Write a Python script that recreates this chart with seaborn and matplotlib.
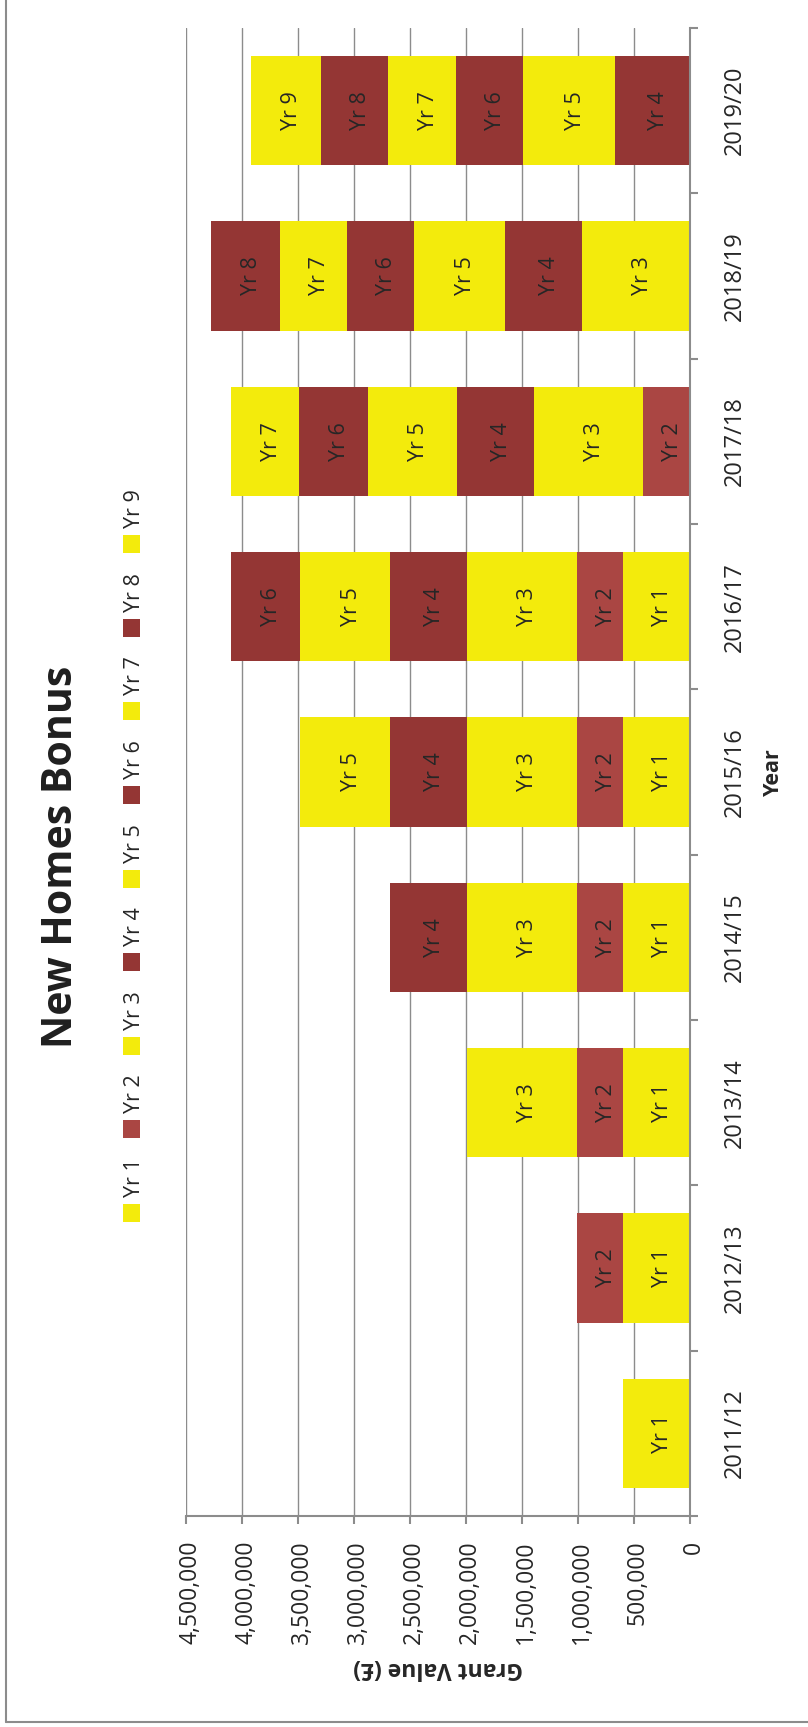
import numpy as np
import pandas as pd
import matplotlib
matplotlib.use("Agg")
import matplotlib.pyplot as plt
import matplotlib.transforms as mtransforms
import seaborn as sns
from matplotlib.patches import Rectangle
from matplotlib.lines import Line2D

# ---------------- data ----------------
years = ['2011/12', '2012/13', '2013/14', '2014/15', '2015/16',
         '2016/17', '2017/18', '2018/19', '2019/20']
tranches = ['Yr 1', 'Yr 2', 'Yr 3', 'Yr 4', 'Yr 5', 'Yr 6', 'Yr 7', 'Yr 8', 'Yr 9']

yr1 = [597000, 597000, 597000, 597000, 597000, 597000, None, None, None]
yr2 = [None, 413000, 413000, 413000, 413000, 413000, 417000, None, None]
yr3 = [None, None, 983000, 983000, 983000, 983000, 975000, 964000, None]
yr4 = [None, None, None, 685000, 685000, 685000, 689000, 684000, 670000]
yr5 = [None, None, None, None, 801000, 801000, 798000, 817000, 818000]
yr6 = [None, None, None, None, None, 617000, 613000, 597000, 597000]
yr7 = [None, None, None, None, None, None, 602000, 601000, 615000]
yr8 = [None, None, None, None, None, None, None, 610000, 597000]
yr9 = [None, None, None, None, None, None, None, None, 624000]

value_ticks = [0, 500000, 1000000, 1500000, 2000000, 2500000,
               3000000, 3500000, 4000000, 4500000]

YELLOW = '#F3EB0C'
RED2 = '#AA4643'
DARKRED = '#943634'
tranche_colors = [YELLOW, RED2, YELLOW, DARKRED, YELLOW, DARKRED, YELLOW, DARKRED, YELLOW]

series = [yr1, yr2, yr3, yr4, yr5, yr6, yr7, yr8, yr9]
rows = []
for yi, yname in enumerate(years):
    cum = 0
    for ti, s in enumerate(series):
        v = s[yi]
        if v is None:
            continue
        rows.append(dict(year=yname, tranche=tranches[ti], value=v,
                         start=cum, end=cum + v))
        cum += v
df = pd.DataFrame(rows)

# ---------------- figure ----------------
W, H = 808, 1727
sns.set_style("white")
plt.rcParams['font.family'] = ['Open Sans', 'DejaVu Sans']
TXT = '#262626'
GRID = '#8c8c8c'

fig = plt.figure(figsize=(W / 100, H / 100), dpi=100)
ax = fig.add_axes([186 / W, 1 - 1516 / H, 504 / W, 1488 / H])

order = years[::-1]
for k in reversed(range(len(tranches))):
    sub = df[df.tranche == tranches[k]]
    sns.barplot(data=sub, x='end', y='year', order=order, orient='h',
                color=tranche_colors[k], saturation=1, width=0.66,
                errorbar=None, ax=ax, linewidth=0, zorder=2)

pos = {y: i for i, y in enumerate(order)}
label_tr = mtransforms.offset_copy(ax.transData, fig=fig, x=6, y=0, units='dots')
for r in df.itertuples():
    ax.text((r.start + r.end) / 2, pos[r.year], r.tranche, rotation=90,
            ha='center', va='center', fontsize=15.5, color=TXT, zorder=3,
            transform=label_tr)

ax.set_xlim(4500000, 0)
ax.set_ylim(8.5, -0.5)

ax.set_xticks(value_ticks)
ax.set_xticklabels([f'{v:,}' for v in value_ticks], rotation=90,
                   va='top', ha='center', fontsize=16.5, color=TXT)
ax.xaxis.grid(True, color=GRID, linewidth=1.0)
ax.yaxis.grid(False)
ax.set_axisbelow(True)

for s in ['left', 'top']:
    ax.spines[s].set_visible(False)
for s in ['right', 'bottom']:
    ax.spines[s].set_visible(True)
    ax.spines[s].set_color(GRID)
    ax.spines[s].set_linewidth(1.5)

ax.yaxis.tick_right()
ax.set_yticks(np.arange(-0.5, 9.0, 1.0))
ax.set_yticklabels([])
ax.set_yticks(range(len(order)), labels=order, minor=True)
for lab in ax.get_yticklabels(minor=True):
    lab.set_rotation(90)
    lab.set_va('center')
    lab.set_ha('left')
    lab.set_fontsize(17)
    lab.set_color(TXT)
ax.tick_params(axis='y', which='major', length=5.8, width=1.5, color=GRID,
               right=True, left=False, labelright=False, labelleft=False)
ax.tick_params(axis='y', which='minor', length=0, pad=24,
               right=True, left=False, labelright=True, labelleft=False)
ax.tick_params(axis='x', which='major', length=5.8, width=1.5, color=GRID,
               bottom=True, top=False, pad=12)

shift = mtransforms.ScaledTranslation(4 / 100, 0, fig.dpi_scale_trans)
for lab in ax.get_xticklabels():
    lab.set_transform(lab.get_transform() + shift)

ax.set_xlabel('Grant Value (£)', fontsize=16.5, fontweight='bold', color=TXT)
ax.xaxis.label.set_rotation(180)
ax.xaxis.label.set_va('center')
ax.xaxis.label.set_ha('center')
ax.xaxis.set_label_coords(0.5, (1516 - 1668) / 1488)

ax.set_ylabel('Year', fontsize=15.5, fontweight='bold', color=TXT)
ax.yaxis.set_label_position('right')
ax.yaxis.label.set_rotation(90)
ax.yaxis.label.set_rotation_mode('default')
ax.yaxis.label.set_va('center')
ax.yaxis.label.set_ha('center')
ax.yaxis.set_label_coords((773 - 186) / 504, 0.5)

# title
fig.text(62 / W, 1 - 857 / H, 'New Homes Bonus', rotation=90, fontsize=29.5,
         fontweight='bold', ha='center', va='center', color='#1f1f1f')

# legend (rotated, drawn by hand)
for i in range(len(tranches)):
    cy = 1213 - 83.6 * i
    fig.patches.append(Rectangle((123 / W, 1 - (cy + 9) / H), 17 / W, 18 / H,
                                 transform=fig.transFigure, figure=fig,
                                 facecolor=tranche_colors[i], edgecolor='none'))
    fig.text(135 / W, 1 - (cy - 16) / H, tranches[i], rotation=90,
             ha='center', va='bottom', fontsize=15.5, color=TXT)

# chart-area border (left and bottom edges visible)
fig.add_artist(Line2D([6 / W, 6 / W], [1 - 1722 / H, 1], transform=fig.transFigure,
                      color=GRID, linewidth=1.5))
fig.add_artist(Line2D([6 / W, 1], [1 - 1722 / H, 1 - 1722 / H],
                      transform=fig.transFigure, color=GRID, linewidth=1.5))

fig.savefig('out.png', dpi=100)
